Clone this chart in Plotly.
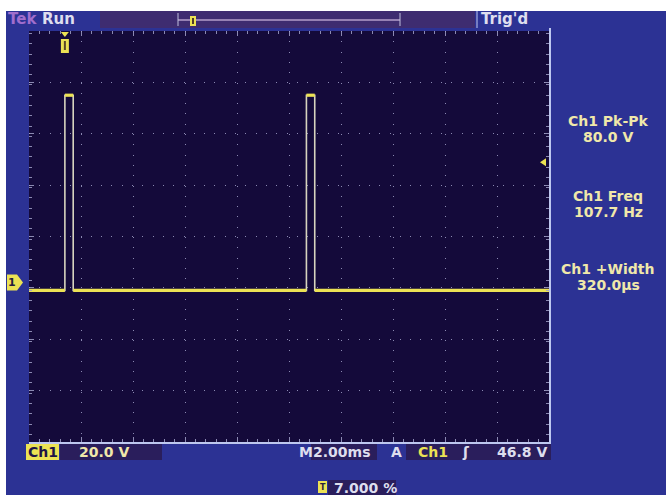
import plotly.graph_objects as go

# ---- scope settings / measurements ----
time_per_div_ms = 2.0
volts_per_div = 20.0
n_hdiv = 10
n_vdiv = 8
center_volts = 21.0          # ground sits ~1 div below screen centre

pulse_starts_ms = [1.38, 10.67]
pulse_width_ms = 0.32
pulse_high_v = 76.0
pulse_low_v = 0.0
trig_level_v = 46.8

meas_labels = ["Ch1 Pk-Pk", "Ch1 Freq", "Ch1 +Width"]
meas_values = ["80.0 V", "107.7 Hz", "320.0\u00b5s"]

ch_scale_text = "20.0 V"
timebase_text = "2.00ms"
trig_level_text = "46.8 V"
trig_pos_text = "7.000 %"

W, H = 666, 495
SCR_L, SCR_R, SCR_T, SCR_B = 29, 549, 31, 442


def fx(x):
    return x / W


def fy(y):
    return 1 - y / H


BLUE = "rgb(44,50,148)"
SCREEN = "rgb(20,10,58)"
YEL = "rgb(236,226,84)"
PALE = "rgb(240,232,170)"
WHITE = "rgb(222,222,238)"
GRID = "rgba(160,160,200,0.85)"
DARKBOX = "rgb(42,30,92)"
FONT = "DejaVu Sans"

# ---- build waveform from the pulse edges ----
t_end = time_per_div_ms * n_hdiv
wx, wy = [0.0], [pulse_low_v]
for s in pulse_starts_ms:
    e = s + pulse_width_ms
    wx += [s, s, e, e]
    wy += [pulse_low_v, pulse_high_v, pulse_high_v, pulse_low_v]
wx.append(t_end)
wy.append(pulse_low_v)

# horizontal (settled) parts only, drawn brighter
lx, ly = [], []
for i in range(len(wx) - 1):
    if wy[i] == wy[i + 1]:
        lx += [wx[i], wx[i + 1], None]
        ly += [wy[i], wy[i + 1], None]

fig = go.Figure()
fig.add_trace(go.Scatter(x=wx, y=wy, mode="lines",
                         line=dict(color="rgb(215,212,190)", width=1.6),
                         hoverinfo="skip", showlegend=False))
fig.add_trace(go.Scatter(x=lx, y=ly, mode="lines",
                         line=dict(color=YEL, width=3.2),
                         hoverinfo="skip", showlegend=False))

y_half = volts_per_div * n_vdiv / 2
y_rng = [center_volts - y_half, center_volts + y_half]

axis_common = dict(
    showgrid=True, gridcolor=GRID, gridwidth=1, griddash="1px,9.3px",
    zeroline=False, showticklabels=False,
    showline=True, linecolor="rgba(0,0,0,0)", mirror="allticks",
    ticks="inside", ticklen=5, tickcolor=GRID, tickwidth=1,
    fixedrange=True,
)

fig.update_layout(
    width=W, height=H,
    margin=dict(l=0, r=0, t=0, b=0),
    paper_bgcolor=BLUE,
    plot_bgcolor=SCREEN,
    xaxis=dict(range=[0, t_end], domain=[fx(SCR_L), fx(SCR_R)],
               tick0=0, dtick=time_per_div_ms,
               minor=dict(dtick=time_per_div_ms / 5, ticks="inside",
                          ticklen=3, tickcolor=GRID, showgrid=False),
               **axis_common),
    yaxis=dict(range=y_rng, domain=[fy(SCR_B), fy(SCR_T)],
               tick0=y_rng[0], dtick=volts_per_div,
               minor=dict(dtick=volts_per_div / 5, ticks="inside",
                          ticklen=3, tickcolor=GRID, showgrid=False),
               **axis_common),
    showlegend=False,
)


def vpix(v):
    return SCR_T + (y_rng[1] - v) / (y_rng[1] - y_rng[0]) * (SCR_B - SCR_T)


shapes = []
# white margins round the capture
shapes.append(dict(type="rect", xref="paper", yref="paper",
                   x0=0, x1=1, y0=fy(11), y1=1,
                   fillcolor="white", line=dict(width=0)))
shapes.append(dict(type="rect", xref="paper", yref="paper",
                   x0=0, x1=fx(6), y0=0, y1=1,
                   fillcolor="white", line=dict(width=0)))
# screen bezel lines (right/bottom)
shapes.append(dict(type="line", xref="paper", yref="paper",
                   x0=fx(SCR_R + 1), x1=fx(SCR_R + 1), y0=fy(SCR_T - 3), y1=fy(SCR_B + 1),
                   line=dict(color="rgb(190,200,240)", width=2)))
shapes.append(dict(type="line", xref="paper", yref="paper",
                   x0=fx(SCR_L), x1=fx(SCR_R + 2), y0=fy(SCR_B + 1), y1=fy(SCR_B + 1),
                   line=dict(color="rgb(190,200,240)", width=2)))
# top record bar
shapes.append(dict(type="rect", xref="paper", yref="paper",
                   x0=fx(100), x1=fx(475), y0=fy(28), y1=fy(11),
                   fillcolor="rgb(62,44,112)", line=dict(width=0)))
shapes.append(dict(type="line", xref="paper", yref="paper",
                   x0=fx(178), x1=fx(400), y0=fy(20), y1=fy(20),
                   line=dict(color="rgb(150,130,180)", width=2)))
for bx in (178, 400):
    shapes.append(dict(type="line", xref="paper", yref="paper",
                       x0=fx(bx), x1=fx(bx), y0=fy(26), y1=fy(13),
                       line=dict(color="rgb(190,190,220)", width=1)))
shapes.append(dict(type="line", xref="paper", yref="paper",
                   x0=fx(477), x1=fx(477), y0=fy(28), y1=fy(11),
                   line=dict(color="rgb(190,200,240)", width=1)))
# trigger position marker in the record bar
shapes.append(dict(type="rect", xref="paper", yref="paper",
                   x0=fx(190), x1=fx(196), y0=fy(26), y1=fy(16),
                   fillcolor=YEL, line=dict(width=0)))
shapes.append(dict(type="rect", xref="paper", yref="paper",
                   x0=fx(192), x1=fx(194), y0=fy(24), y1=fy(18),
                   fillcolor="rgb(80,60,40)", line=dict(width=0)))
# trigger position marker on screen
tpx = SCR_L + (pulse_starts_ms[0] / time_per_div_ms) * (SCR_R - SCR_L) / n_hdiv
shapes.append(dict(type="path", xref="paper", yref="paper",
                   path=f"M {fx(tpx-4)} {fy(32)} L {fx(tpx+4)} {fy(32)} L {fx(tpx)} {fy(37)} Z",
                   fillcolor=YEL, line=dict(width=0)))
shapes.append(dict(type="rect", xref="paper", yref="paper",
                   x0=fx(tpx - 4), x1=fx(tpx + 4), y0=fy(53), y1=fy(39),
                   fillcolor=YEL, line=dict(width=0)))
shapes.append(dict(type="rect", xref="paper", yref="paper",
                   x0=fx(tpx - 1), x1=fx(tpx + 1), y0=fy(50), y1=fy(41),
                   fillcolor="rgb(90,70,40)", line=dict(width=0)))
# ground reference marker (left)
gy = vpix(pulse_low_v) - 8
shapes.append(dict(type="path", xref="paper", yref="paper",
                   path=(f"M {fx(7)} {fy(gy-8)} L {fx(17)} {fy(gy-8)} L {fx(23)} {fy(gy)} "
                         f"L {fx(17)} {fy(gy+8)} L {fx(7)} {fy(gy+8)} Z"),
                   fillcolor=YEL, line=dict(width=0)))
# trigger level arrow (right)
ty = vpix(trig_level_v) - 8
shapes.append(dict(type="path", xref="paper", yref="paper",
                   path=f"M {fx(540)} {fy(ty)} L {fx(546)} {fy(ty-4)} L {fx(546)} {fy(ty+4)} Z",
                   fillcolor=YEL, line=dict(width=0)))
# bottom readout boxes
shapes.append(dict(type="rect", xref="paper", yref="paper",
                   x0=fx(26), x1=fx(59), y0=fy(460), y1=fy(444),
                   fillcolor=YEL, line=dict(width=0)))
shapes.append(dict(type="rect", xref="paper", yref="paper",
                   x0=fx(60), x1=fx(162), y0=fy(460), y1=fy(444),
                   fillcolor=DARKBOX, line=dict(width=0)))
shapes.append(dict(type="rect", xref="paper", yref="paper",
                   x0=fx(311), x1=fx(377), y0=fy(460), y1=fy(444),
                   fillcolor=DARKBOX, line=dict(width=0)))
shapes.append(dict(type="rect", xref="paper", yref="paper",
                   x0=fx(406), x1=fx(551), y0=fy(460), y1=fy(444),
                   fillcolor=DARKBOX, line=dict(width=0)))
shapes.append(dict(type="rect", xref="paper", yref="paper",
                   x0=fx(318), x1=fx(327), y0=fy(493), y1=fy(481),
                   fillcolor=YEL, line=dict(width=0)))
shapes.append(dict(type="rect", xref="paper", yref="paper",
                   x0=fx(328), x1=fx(396), y0=fy(495), y1=fy(480),
                   fillcolor=DARKBOX, line=dict(width=0)))
fig.update_layout(shapes=shapes)


def txt(x, y, s, color, size=14, anchor="left", bold=True):
    return dict(x=fx(x), y=fy(y), xref="paper", yref="paper",
                text=f"<b>{s}</b>" if bold else s, showarrow=False,
                xanchor=anchor, yanchor="middle",
                font=dict(family=FONT, size=size, color=color))


ann = [
    txt(6, 19, "Tek", "rgb(160,110,205)", 15),
    txt(40, 19, "Run", WHITE, 15),
    txt(479, 19, "Trig'd", WHITE, 15),
    txt(12, gy, "1", "rgb(40,30,60)", 11, "center"),
    txt(26, 452, "Ch1", "rgb(30,20,70)", 14),
    txt(77, 452, ch_scale_text, PALE, 14),
    txt(297, 452, "M", WHITE, 14),
    txt(311, 452, timebase_text, WHITE, 14),
    txt(389, 452, "A", WHITE, 14),
    txt(416, 452, "Ch1", YEL, 14),
    txt(466, 452, "\u0283", WHITE, 14, "center"),
    txt(549, 452, trig_level_text, WHITE, 14, "right"),
    txt(322.5, 487, "T", "rgb(40,30,60)", 8, "center"),
    txt(332, 488, trig_pos_text, WHITE, 14),
]
meas_y = [121, 196, 269]
for lab, val, yy in zip(meas_labels, meas_values, meas_y):
    ann.append(txt(608, yy, lab, PALE, 14, "center"))
    ann.append(txt(608, yy + 16, val, PALE, 14, "center"))
fig.update_layout(annotations=ann)

fig.write_html("out.html")
